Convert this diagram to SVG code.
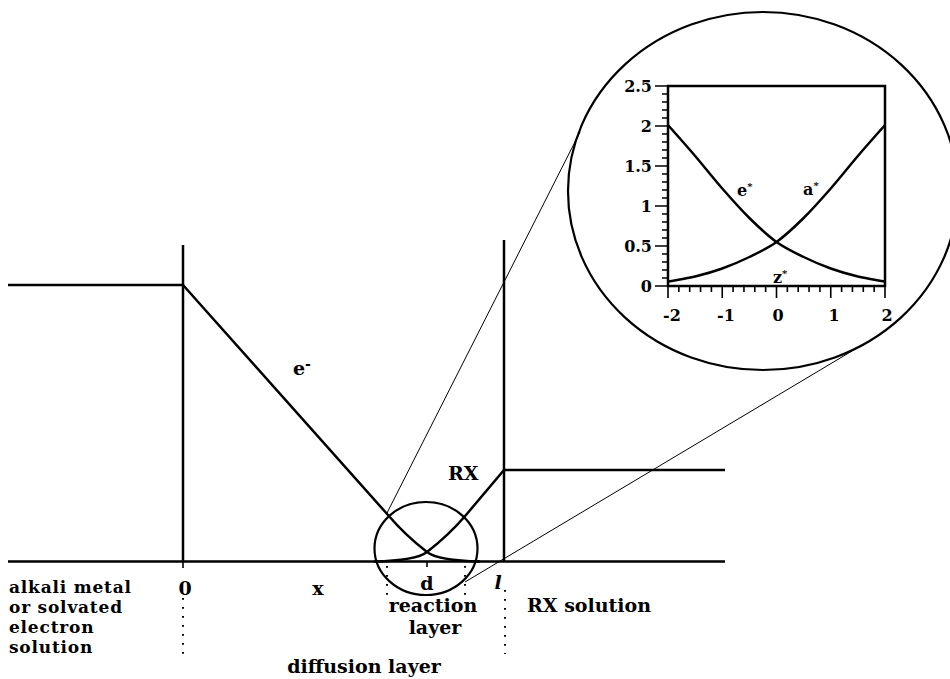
<svg xmlns="http://www.w3.org/2000/svg" width="950" height="679" viewBox="0 0 950 679">
<style>
.ln{fill:none;stroke:#000;stroke-width:2.5;stroke-linecap:butt}
.thin{fill:none;stroke:#000;stroke-width:1}
.circ{fill:none;stroke:#000;stroke-width:2.2}
.tick{fill:none;stroke:#000;stroke-width:1.6}
.dot{fill:none;stroke:#000;stroke-width:2;stroke-dasharray:1.8 7.2}
text{font-family:"DejaVu Serif","Liberation Serif",serif;font-weight:bold;fill:#000}
.lb{font-size:19px}
.left{font-size:17px;letter-spacing:0.8px}
.ax{font-size:16px}
.ay{font-size:16px}
.sup{font-size:10px}
.supm{font-size:14px}
</style>
<rect width="950" height="679" fill="#fff"/>
<g id="main-plot">
  <path class="ln" d="M8,285H183M183,245V562M8,561.5H725M504,240V562M504,470H725"/>
  <path class="ln" d="M183,285L388,515Q405,535 427,552Q438,560.5 480,561.5"/>
  <path class="ln" d="M374,561.5Q416,560.5 427,552Q449,535 466,515L504,470"/>
  <path class="tick" d="M183,562V568M427,562V567"/>
  <path class="dot" d="M183,598V654M505,590V654M387,566V600M465,566V600"/>
</g>
<g id="reaction-circle">
  <ellipse class="circ" cx="426" cy="548.5" rx="51.5" ry="46.5"/>
</g>
<g id="connectors">
  <path class="thin" d="M387,513L580,132"/>
  <path class="thin" d="M465,582L852,351"/>
</g>
<g id="inset">
  <ellipse class="circ" cx="763" cy="191" rx="195" ry="179"/>
  <rect class="ln" x="668" y="86" width="217" height="200"/>
  <path class="tick" d="M655,86H668M655,126H668M655,166H668M655,206H668M655,246H668M655,286H668"/>
  <path class="tick" stroke-width="1.2" d="M662,94H668M662,102H668M662,110H668M662,118H668M662,134H668M662,142H668M662,150H668M662,158H668M662,174H668M662,182H668M662,190H668M662,198H668M662,214H668M662,222H668M662,230H668M662,238H668M662,254H668M662,262H668M662,270H668M662,278H668"/>
  <path class="tick" d="M668,286V298M722.25,286V298M776.5,286V298M830.75,286V298M885,286V298"/>
  <path class="tick" stroke-width="1.2" d="M678.85,286V292M689.7,286V292M700.55,286V292M711.4,286V292M733.1,286V292M743.95,286V292M754.8,286V292M765.65,286V292M787.35,286V292M798.2,286V292M809.05,286V292M819.9,286V292M841.6,286V292M852.45,286V292M863.3,286V292M874.15,286V292"/>
  <path id="estar" class="ln" d="M668,125C677.04,135.33 686.08,145.42 695.13,156C704.17,166.58 713.21,178.17 722.25,188.5C731.29,198.83 740.33,209.08 749.38,218C758.42,226.92 767.46,235.5 776.5,242C785.54,248.5 794.58,252.58 803.63,257C812.67,261.42 821.71,265.25 830.75,268.5C839.79,271.75 848.83,274.33 857.88,276.5C866.92,278.67 875.96,279.83 885,281.5"/>
  <use href="#estar" transform="translate(1553,0) scale(-1,1)"/>
  <g class="ay" text-anchor="end">
    <text x="652" y="92">2.5</text>
    <text x="652" y="132">2</text>
    <text x="652" y="172">1.5</text>
    <text x="652" y="212">1</text>
    <text x="652" y="252">0.5</text>
    <text x="652" y="292">0</text>
  </g>
  <g class="ax" text-anchor="middle">
    <text x="672" y="321">-2</text>
    <text x="726" y="321">-1</text>
    <text x="778" y="321">0</text>
    <text x="834" y="321">1</text>
    <text x="887" y="321">2</text>
  </g>
  <text class="ay" x="737" y="196">e<tspan class="sup" dy="-6">*</tspan></text>
  <text class="ay" x="803" y="195">a<tspan class="sup" dy="-6">*</tspan></text>
  <text class="ay" x="773" y="283">z<tspan class="sup" dy="-6">*</tspan></text>
</g>
<g id="labels" class="lb">
  <text x="293" y="375">e<tspan class="supm" dy="-6">-</tspan></text>
  <text x="448" y="480">RX</text>
  <text x="185" y="595" text-anchor="middle">0</text>
  <text x="318" y="595" text-anchor="middle">x</text>
  <text x="427" y="590" text-anchor="middle">d</text>
  <text x="498" y="589" text-anchor="middle" font-style="italic">l</text>
  <text x="433" y="612" text-anchor="middle">reaction</text>
  <text x="435" y="634" text-anchor="middle">layer</text>
  <text x="364" y="673" text-anchor="middle">diffusion layer</text>
  <text x="527" y="612">RX solution</text>
  <g class="left">
    <text x="9" y="593">alkali metal</text>
    <text x="9" y="613">or solvated</text>
    <text x="9" y="633">electron</text>
    <text x="9" y="653">solution</text>
  </g>
</g>
</svg>
